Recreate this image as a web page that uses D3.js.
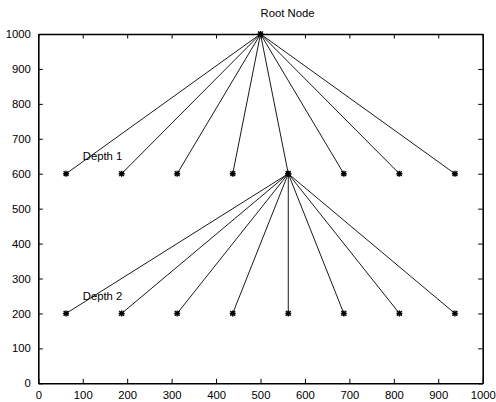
<!DOCTYPE html>
<html>
<head>
<meta charset="utf-8">
<script src="https://cdn.jsdelivr.net/npm/d3@7"></script>
<style>
  html, body { margin: 0; padding: 0; background: #fff; }
  svg { display: block; }
  text { font-family: "Liberation Sans", Arial, Helvetica, sans-serif; fill: #000; }
</style>
</head>
<body>
<svg id="chart" width="496" height="402"></svg>
<script>
// ---- data ----
const xTicks = [0, 100, 200, 300, 400, 500, 600, 700, 800, 900, 1000];
const yTicks = [0, 100, 200, 300, 400, 500, 600, 700, 800, 900, 1000];
const nodeX = [62.5, 187.5, 312.5, 437.5, 562.5, 687.5, 812.5, 937.5];
const rootXY = [500, 1000];
const depth1Y = 600;
const depth2ParentXY = [562.5, 600];
const depth2Y = 200;
const labelText = ["Root Node", "Depth 1", "Depth 2"];
const labelX = [500, 100, 100];
const labelY = [1060, 650, 250];

// ---- layout ----
const L = 38.3, R = 482.7, T = 34, B = 383.3;
const svg = d3.select("#chart");
const x = d3.scaleLinear().domain([0, 1000]).range([L, R]);
const y = d3.scaleLinear().domain([0, 1000]).range([B, T]);
const fs = "11.3px";
const tickLen = 4.5;

// edges
const edges = [];
nodeX.forEach(nx => edges.push([rootXY, [nx, depth1Y]]));
nodeX.forEach(nx => edges.push([depth2ParentXY, [nx, depth2Y]]));

const g = svg.append("g");
g.selectAll("line.edge").data(edges).enter().append("line")
  .attr("class", "edge")
  .attr("x1", d => x(d[0][0])).attr("y1", d => y(d[0][1]))
  .attr("x2", d => x(d[1][0])).attr("y2", d => y(d[1][1]))
  .attr("stroke", "#000").attr("stroke-width", 0.9);

// markers '*'
const pts = [rootXY, depth2ParentXY]
  .concat(nodeX.map(nx => [nx, depth1Y]))
  .concat(nodeX.map(nx => [nx, depth2Y]));
const ms = 3;
const star = `M${-ms},0L${ms},0M0,${-ms}L0,${ms}M${-ms*0.8},${-ms*0.8}L${ms*0.8},${ms*0.8}M${-ms*0.8},${ms*0.8}L${ms*0.8},${-ms*0.8}`;
g.selectAll("path.mk").data(pts).enter().append("path")
  .attr("class", "mk")
  .attr("transform", d => `translate(${x(d[0])},${y(d[1])})`)
  .attr("d", star)
  .attr("stroke", "#000").attr("stroke-width", 1.4).attr("fill", "none");

// axes (box with inward ticks)
const axB = d3.axisBottom(x).tickValues(xTicks).tickSizeInner(-tickLen).tickSizeOuter(0).tickPadding(7.5).tickFormat(d3.format("d"));
const axT = d3.axisTop(x).tickValues(xTicks).tickSizeInner(-tickLen).tickSizeOuter(0).tickFormat("");
const axL = d3.axisLeft(y).tickValues(yTicks).tickSizeInner(-tickLen).tickSizeOuter(0).tickPadding(7.5).tickFormat(d3.format("d"));
const axRt = d3.axisRight(y).tickValues(yTicks).tickSizeInner(-tickLen).tickSizeOuter(0).tickFormat("");

function style(sel) {
  sel.selectAll("path.domain").attr("stroke", "#000").attr("stroke-width", 1.6);
  sel.selectAll(".tick line").attr("stroke", "#000").attr("stroke-width", 1);
  sel.selectAll("text").style("font-size", fs).attr("fill", "#000");
}
svg.append("g").attr("transform", `translate(0,${B})`).call(axB).call(style)
  .selectAll(".tick text").attr("dy", "0.71em");
svg.append("g").attr("transform", `translate(0,${T})`).call(axT).call(style);
svg.append("g").attr("transform", `translate(${L},0)`).call(axL).call(style);
svg.append("g").attr("transform", `translate(${R},0)`).call(axRt).call(style);
svg.selectAll(".domain").attr("fill", "none");

// annotations
svg.selectAll("text.lbl").data(labelText).enter().append("text")
  .attr("class", "lbl")
  .attr("x", (d, i) => x(labelX[i]))
  .attr("y", (d, i) => y(labelY[i]))
  .attr("dy", "0.37em")
  .style("font-size", fs)
  .text(d => d);
</script>
</body>
</html>
